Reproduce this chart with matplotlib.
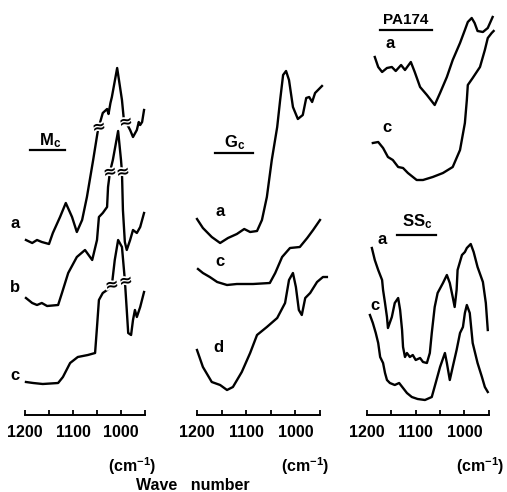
import matplotlib
matplotlib.use("Agg")
import matplotlib.pyplot as plt
import matplotlib.patheffects as pe
from matplotlib.ticker import FixedLocator, NullFormatter

plt.rcParams['font.family'] = ['Liberation Sans', 'DejaVu Sans']
plt.rcParams['mathtext.fontset'] = 'custom'
plt.rcParams['mathtext.rm'] = 'Liberation Sans:bold'
plt.rcParams['mathtext.it'] = 'Liberation Sans:bold'
plt.rcParams['mathtext.bf'] = 'Liberation Sans:bold'

# ---------------- IR spectra (wavenumber in cm^-1, relative absorbance, offset traces) -------------
# Mc
mc_a_wn = [1198, 1185, 1175, 1165, 1150, 1142, 1127, 1115, 1102, 1092, 1081, 1071, 1058, 1048,
           1038, 1029, 1026, 1022, 1019, 1008, 998, 994, 990, 981, 975, 967, 963, 960, 956, 952]
mc_a_ab = [175, 172, 175, 173, 171, 182, 198, 212, 198, 183, 195, 218, 255, 285,
           302, 306, 301, 312, 318, 347, 315, 295, 293, 285, 278, 285, 293, 290, 293, 305]
mc_b_wn = [1198, 1185, 1175, 1165, 1154, 1131, 1123, 1110, 1092, 1075, 1060, 1050, 1046, 1038,
           1029, 1027, 1023, 1017, 1006, 1000, 998, 996, 992, 988, 981, 975, 967, 960, 952]
mc_b_ab = [117, 112, 110, 112, 109, 110, 122, 142, 158, 165, 155, 175, 198, 202,
           208, 228, 243, 255, 284, 255, 243, 205, 173, 165, 175, 185, 182, 188, 202]
mc_c_wn = [1198, 1183, 1163, 1131, 1121, 1106, 1090, 1069, 1054, 1050, 1046, 1038, 1029, 1019,
           1013, 1006, 998, 992, 988, 985, 979, 975, 971, 967, 960, 952]
mc_c_ab = [33, 32, 31, 32, 38, 52, 58, 60, 62, 88, 115, 122, 125, 130,
           155, 175, 168, 135, 105, 82, 80, 95, 105, 98, 108, 123]
mc_breaks_wn = [1046, 990, 1023, 996, 1019, 990]
mc_breaks_ab = [288, 293, 243, 243, 130, 134]

# Gc
gc_a_wn = [1200, 1188, 1170, 1153, 1137, 1119, 1104, 1092, 1078, 1068, 1058, 1048, 1037, 1031,
           1025, 1019, 1013, 1005, 995, 985, 978, 972, 966, 960, 946]
gc_a_ab = [196, 187, 178, 172, 177, 181, 186, 183, 184, 195, 218, 255, 288, 315,
           340, 344, 335, 308, 296, 300, 317, 318, 313, 322, 329]
gc_c_wn = [1198, 1188, 1174, 1159, 1139, 1119, 1086, 1052, 1041, 1027, 1011, 991, 976, 964, 950]
gc_c_ab = [146, 142, 138, 133, 130, 131, 131, 132, 142, 158, 167, 168, 177, 185, 195]
gc_d_wn = [1200, 1188, 1170, 1153, 1139, 1127, 1109, 1092, 1078, 1058, 1037, 1021, 1013, 1005,
           999, 993, 987, 980, 970, 956, 944, 936]
gc_d_ab = [65, 48, 33, 30, 25, 28, 43, 62, 80, 88, 97, 112, 135, 142,
           128, 105, 100, 117, 122, 133, 138, 138]

# PA174
pa_a_wn = [1184, 1177, 1169, 1159, 1149, 1141, 1130, 1122, 1110, 1102, 1091, 1077, 1061, 1050,
           1036, 1024, 1009, 999, 993, 985, 979, 973, 962, 952, 942]
pa_a_ab = [358, 348, 343, 347, 348, 344, 350, 345, 353, 343, 328, 320, 310, 322,
           338, 355, 372, 385, 393, 397, 392, 384, 383, 387, 398]
pa_c_wn = [1188, 1177, 1167, 1157, 1147, 1136, 1126, 1116, 1098, 1085, 1065, 1044, 1024, 1009,
           999, 995, 993, 983, 968, 958, 952, 944, 940]
pa_c_ab = [272, 273, 267, 258, 255, 248, 247, 242, 235, 235, 238, 242, 248, 265,
           292, 315, 330, 337, 348, 365, 377, 382, 384]

# SSc
ss_a_wn = [1190, 1184, 1177, 1169, 1167, 1163, 1159, 1157, 1149, 1143, 1136, 1132, 1128, 1126,
           1122, 1118, 1112, 1106, 1100, 1091, 1085, 1077, 1071, 1067, 1061, 1055, 1044, 1036,
           1030, 1024, 1020, 1016, 1014, 1005, 999, 995, 987, 981, 973, 962, 956, 952]
ss_a_ab = [167, 155, 145, 135, 125, 112, 98, 87, 98, 112, 117, 105, 85, 68,
           58, 62, 58, 60, 55, 57, 53, 52, 62, 82, 108, 122, 132, 140,
           132, 118, 108, 125, 145, 160, 163, 167, 171, 163, 148, 133, 112, 85]
ss_c_wn = [1194, 1188, 1182, 1177, 1173, 1167, 1163, 1159, 1153, 1143, 1134, 1126, 1118, 1108,
           1096, 1081, 1067, 1059, 1050, 1040, 1036, 1030, 1024, 1016, 1009, 1003, 999, 995,
           989, 983, 973, 964, 958, 952]
ss_c_ab = [100, 92, 82, 72, 58, 52, 42, 35, 32, 30, 32, 27, 22, 18,
           16, 15, 18, 32, 48, 62, 52, 35, 48, 65, 82, 88, 102, 110,
           102, 72, 52, 38, 28, 23]

major_ticks = [1200, 1100, 1000]
minor_ticks = [1150, 1050, 950]
tick_labels = ['1200', '1100', '1000']

W, H = 507, 492
fig = plt.figure(figsize=(W / 100, H / 100), dpi=100)

BOTTOM = 415.0  # pixel row of the wavenumber axis


def make_axes(px_1200, px_per_cm):
    lo, hi = 1240, 930
    left = px_1200 - (lo - 1200) * px_per_cm
    right = px_1200 + (1200 - hi) * px_per_cm
    ax = fig.add_axes([left / W, (H - BOTTOM) / H, (right - left) / W, BOTTOM / H])
    ax.set_xlim(lo, hi)
    ax.set_ylim(0, BOTTOM)
    ax.patch.set_alpha(0)
    for s in ('top', 'right', 'left'):
        ax.spines[s].set_visible(False)
    ax.spines['bottom'].set_bounds(950, 1200)
    ax.spines['bottom'].set_linewidth(1.4)
    ax.set_yticks([])
    ax.xaxis.set_major_locator(FixedLocator(major_ticks))
    ax.xaxis.set_minor_locator(FixedLocator(minor_ticks))
    ax.set_xticklabels(tick_labels)
    ax.xaxis.set_minor_formatter(NullFormatter())
    ax.tick_params(axis='x', which='both', direction='in', length=3.5, width=1.3, pad=7,
                   labelsize=11.5)
    for lab in ax.get_xticklabels():
        lab.set_fontweight('bold')
    return ax


LW = 1.7
TXT = dict(fontsize=12, fontweight='bold', ha='center', va='center')

# Mc
ax1 = make_axes(25, 0.48)
ax1.plot(mc_a_wn, mc_a_ab, color='black', lw=LW)
ax1.plot(mc_b_wn, mc_b_ab, color='black', lw=LW)
ax1.plot(mc_c_wn, mc_c_ab, color='black', lw=LW)
# scale-break symbols on the strong bands
for xw, ya in zip(mc_breaks_wn, mc_breaks_ab):
    ax1.text(xw, ya, '≈', fontsize=12, fontweight='bold', ha='center', va='center',
             family='DejaVu Sans', rotation=10,
             path_effects=[pe.withStroke(linewidth=2.5, foreground='white')])
ax1.text(1148, 274, r'M$_\mathregular{c}$', fontsize=12, fontweight='bold', ha='center', va='center')
ax1.plot([1190, 1117], [265, 265], color='black', lw=1.6)
ax1.text(1221, 192, 'a', **TXT)
ax1.text(1221, 127, 'b', **TXT)
ax1.text(1221, 40, 'c', **TXT)

# Gc
ax2 = make_axes(197, 0.492)
ax2.plot(gc_a_wn, gc_a_ab, color='black', lw=LW)
ax2.plot(gc_c_wn, gc_c_ab, color='black', lw=LW)
ax2.plot(gc_d_wn, gc_d_ab, color='black', lw=LW)
ax2.text(1123, 272, r'G$_\mathregular{c}$', fontsize=12, fontweight='bold', ha='center', va='center')
ax2.plot([1163, 1086], [262, 262], color='black', lw=1.6)
ax2.text(1153, 203, 'a', **TXT)
ax2.text(1153, 153, 'c', **TXT)
ax2.text(1157, 68, 'd', **TXT)

# PA174 and SSc
ax3 = make_axes(367, 0.487)
ax3.plot(pa_a_wn, pa_a_ab, color='black', lw=LW)
ax3.plot(pa_c_wn, pa_c_ab, color='black', lw=LW)
ax3.plot(ss_a_wn, ss_a_ab, color='black', lw=LW)
ax3.plot(ss_c_wn, ss_c_ab, color='black', lw=LW)
ax3.text(1120, 395, 'PA174', fontsize=11, fontweight='bold', ha='center', va='center')
ax3.plot([1173, 1067], [385, 385], color='black', lw=1.6)
ax3.text(1153, 372, 'a', **TXT)
ax3.text(1159, 288, 'c', **TXT)
ax3.text(1096, 193, r'SS$_\mathregular{c}$', fontsize=12, fontweight='bold', ha='center', va='center')
ax3.plot([1139, 1059], [180, 180], color='black', lw=1.6)
ax3.text(1169, 175, 'a', **TXT)
ax3.text(1184, 110, 'c', **TXT)

unit = r'(cm$^{\mathregular{-1}}$)'
for xc in (132, 305, 480):
    fig.text(xc / W, 1 - 466 / H, unit, fontsize=11.5, fontweight='bold', ha='center', va='center')
fig.text(193 / W, 1 - 486 / H, 'Wave   number', fontsize=11.5, fontweight='bold',
         ha='center', va='center')

fig.savefig('out.png', dpi=100, facecolor='white')
